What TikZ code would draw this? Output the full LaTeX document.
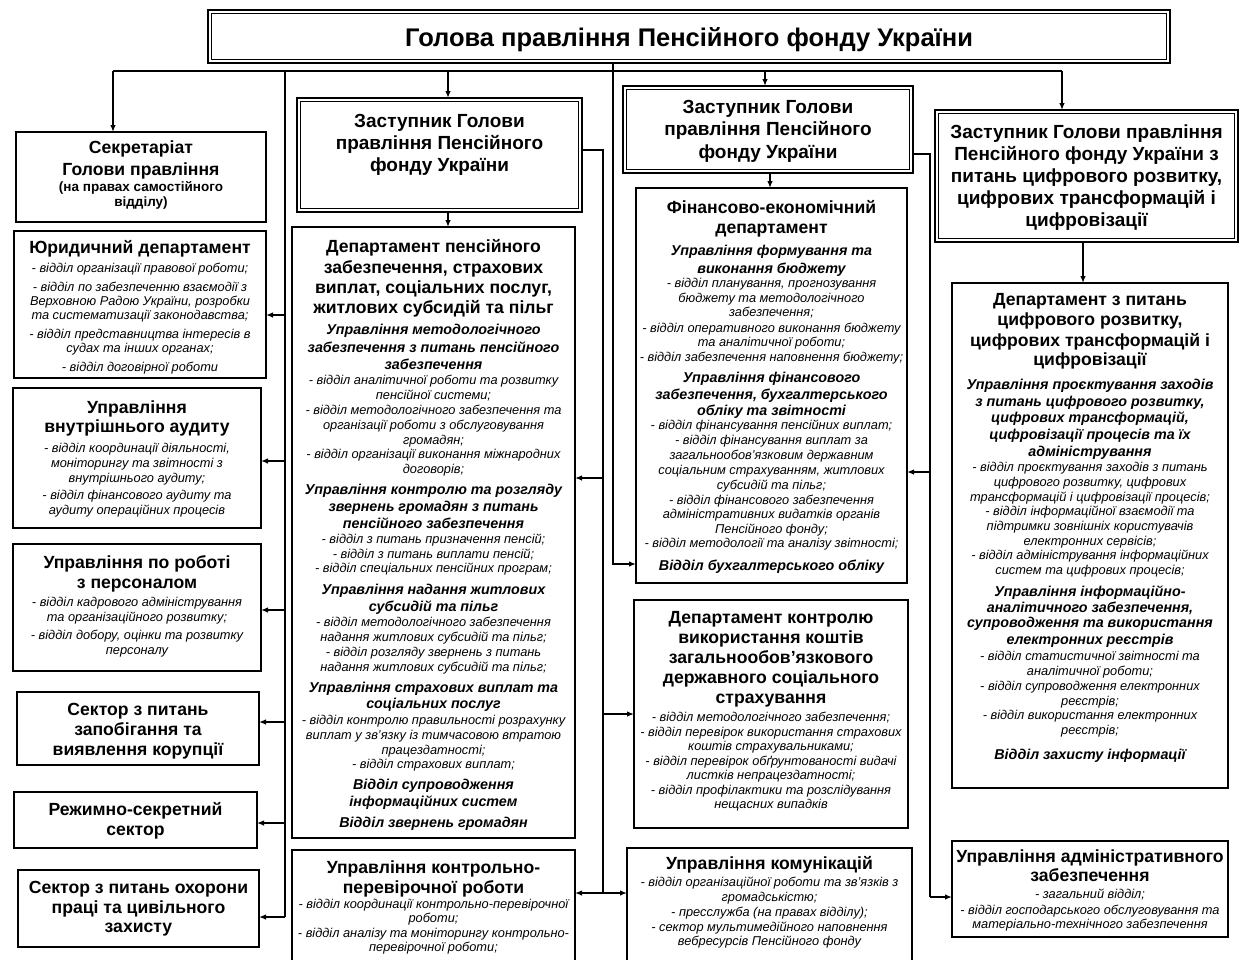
\documentclass[tikz,border=0pt]{standalone}
\usepackage{fontspec}
\setmainfont{Liberation Sans}
\usetikzlibrary{arrows.meta}
\setlength\parindent{0pt}
\newcommand\fBase{\lineskiplimit=-100pt\lineskip=0pt\spaceskip=0.278em plus 0.14em minus 0.06em\xspaceskip=0.3em plus 0.14em minus 0.06em\relax}
\newcommand\fTt{\bfseries\upshape\fontsize{25.5}{0}\selectfont\fBase}
\newcommand\fHd{\bfseries\upshape\fontsize{17.6}{0}\selectfont\fBase}
\newcommand\fDp{\bfseries\upshape\fontsize{19}{0}\selectfont\fBase}
\newcommand\fSh{\bfseries\itshape\fontsize{14.3}{0}\selectfont\fBase}
\newcommand\fLi{\mdseries\itshape\fontsize{12.8}{0}\selectfont\fBase}
\newcommand\fSb{\bfseries\upshape\fontsize{13.5}{0}\selectfont\fBase}
\newcommand\fst[1]{\rule{0pt}{#1pt}}
\begin{document}
\begin{tikzpicture}[x=1pt,y=-1pt,
  box/.style={draw,line width=1.2pt,rectangle,inner sep=0pt,outer sep=0pt,anchor=north west},
  dbox/.style={box,line width=1.5pt},
  inner/.style={draw,line width=0.7pt},
  txt/.style={anchor=north,inner sep=0pt,outer sep=0pt,execute at begin node={\centering}},
  conn/.style={line width=1.3pt},
  arr/.style={conn,-{Latex[length=7pt,width=5.5pt]}}]
\useasboundingbox (0,0) rectangle (1240,959);
\clip (0,0) rectangle (1240,959);

% ---------- boxes ----------
\node[dbox,minimum width=962pt,minimum height=53pt] (head) at (208,10) {};
\node[box,minimum width=250pt,minimum height=90pt] (sec) at (16,132) {};
\node[box,minimum width=252pt,minimum height=147pt] (yur) at (14,231) {};
\node[box,minimum width=248pt,minimum height=140pt] (aud) at (13,388) {};
\node[box,minimum width=248pt,minimum height=127pt] (per) at (13,544) {};
\node[box,minimum width=242pt,minimum height=73pt] (cor) at (17,692) {};
\node[box,minimum width=243pt,minimum height=56pt] (reg) at (14,792) {};
\node[box,minimum width=241pt,minimum height=77pt] (saf) at (18,870) {};
\node[dbox,minimum width=285pt,minimum height=114pt] (dep1) at (297,98) {};
\node[box,minimum width=283pt,minimum height=611pt] (pens) at (292,227) {};
\node[box,minimum width=283pt,minimum height=118pt] (kpr) at (292,850) {};
\node[dbox,minimum width=290pt,minimum height=87pt] (dep2) at (623,86) {};
\node[box,minimum width=271pt,minimum height=395pt] (fin) at (636,188) {};
\node[box,minimum width=274pt,minimum height=228pt] (kon) at (634,600) {};
\node[box,minimum width=285pt,minimum height=118pt] (kom) at (627,848) {};
\node[dbox,minimum width=303pt,minimum height=132pt] (dep3) at (935,110) {};
\node[box,minimum width=276pt,minimum height=505pt] (dig) at (952,283) {};
\node[box,minimum width=276pt,minimum height=96pt] (adm) at (952,841) {};

\foreach \n in {head,dep1,dep2,dep3}
  \draw[inner] ([shift={(3.2pt,-3.2pt)}]\n.north west) rectangle ([shift={(-3.2pt,3.2pt)}]\n.south east);

% ---------- texts ----------
\node[txt,text width=950pt] (head-t) at (689,21.2) {\fTt\fst{25.5}Голова правління Пенсійного фонду України\par};

\node[txt,text width=280pt] (sec-t) at (141,135.8) {\fHd\fst{18}Секретаріат\\[22pt]Голови правління\\[15.6pt]\fSb(на правах самостійного\\[15pt]відділу)\par};

\node[txt,text width=290pt] (yur-t) at (140,235.8) {\fHd\fst{18}Юридичний департамент\\[18.3pt]%
\fLi- відділ організації правової роботи;\\[19pt]- відділ по забезпеченню взаємодії з\\[14pt]Верховною Радою України, розробки\\[14pt]та систематизації законодавства;\\[19pt]- відділ представництва інтересів в\\[14pt]судах та інших органах;\\[19pt]- відділ договірної роботи\par};

\node[txt,text width=290pt] (aud-t) at (137,395.8) {\fHd\fst{18}Управління\\[19pt]внутрішнього аудиту\\[19.3pt]%
\fLi- відділ координації діяльності,\\[15pt]моніторингу та звітності з\\[15pt]внутрішнього аудиту;\\[17pt]- відділ фінансового аудиту та\\[15pt]аудиту операційних процесів\par};

\node[txt,text width=290pt] (per-t) at (137,550.8) {\fHd\fst{18}Управління по роботі\\[20pt]з персоналом\\[17.3pt]%
\fLi- відділ кадрового адміністрування\\[15pt]та організаційного розвитку;\\[18pt]- відділ добору, оцінки та розвитку\\[15pt]персоналу\par};

\node[txt,text width=280pt] (cor-t) at (138,697.8) {\fHd\fst{18}Сектор з питань\\[20pt]запобігання та\\[20pt]виявлення корупції\par};
\node[txt,text width=280pt] (reg-t) at (135.5,797.8) {\fHd\fst{18}Режимно-секретний\\[20pt]сектор\par};
\node[txt,text width=280pt] (saf-t) at (138.5,875.8) {\fHd\fst{18}Сектор з питань охорони\\[19.5pt]праці та цивільного\\[19.5pt]захисту\par};

\node[txt,text width=320pt] (dep1-t) at (439.5,108.1) {\fDp\fst{19}Заступник Голови\\[22pt]правління Пенсійного\\[22pt]фонду України\par};
\node[txt,text width=320pt] (dep2-t) at (768,94.1) {\fDp\fst{19}Заступник Голови\\[22.5pt]правління Пенсійного\\[22.5pt]фонду України\par};
\node[txt,text width=340pt] (dep3-t) at (1086.5,119.1) {\fDp\fst{19}Заступник Голови правління\\[22pt]Пенсійного фонду України з\\[22pt]питань цифрового розвитку,\\[22pt]цифрових трансформацій і\\[22pt]цифровізації\par};

\node[txt,text width=320pt] (pens-t) at (433.5,234.8) {\fHd\fst{18}Департамент пенсійного\\[21pt]забезпечення, страхових\\[20pt]виплат, соціальних послуг,\\[20pt]житлових субсидій та пільг\\[20.8pt]%
\fSh Управління методологічного\\[18pt]забезпечення з питань пенсійного\\[17pt]забезпечення\\[14.5pt]%
\fLi- відділ аналітичної роботи та розвитку\\[15pt]пенсійної системи;\\[15pt]- відділ методологічного забезпечення та\\[15pt]організації роботи з обслуговування\\[15pt]громадян;\\[14pt]- відділ організації виконання міжнародних\\[15pt]договорів;\\[21.5pt]%
\fSh Управління контролю та розгляду\\[17pt]звернень громадян з питань\\[17pt]пенсійного забезпечення\\[14.5pt]%
\fLi- відділ з питань призначення пенсій;\\[15pt]- відділ з питань виплати пенсій;\\[14pt]- відділ спеціальних пенсійних програм;\\[22.5pt]%
\fSh Управління надання житлових\\[17pt]субсидій та пільг\\[14.5pt]%
\fLi- відділ методологічного забезпечення\\[15pt]надання житлових субсидій та пільг;\\[15pt]- відділ розгляду звернень з питань\\[15pt]надання житлових субсидій та пільг;\\[21.5pt]%
\fSh Управління страхових виплат та\\[16pt]соціальних послуг\\[15.5pt]%
\fLi- відділ контролю правильності розрахунку\\[15pt]виплат у зв'язку із тимчасовою втратою\\[15pt]працездатності;\\[14pt]- відділ страхових виплат;\\[21.5pt]%
\fSh Відділ супроводження\\[17pt]інформаційних систем\\[21pt]Відділ звернень громадян\par};

\node[txt,text width=320pt] (kpr-t) at (433.5,855.8) {\fHd\fst{18}Управління контрольно-\\[20pt]перевірочної роботи\\[14.3pt]%
\fLi- відділ координації контрольно-перевірочної\\[14.5pt]роботи;\\[14.5pt]- відділ аналізу та моніторингу контрольно-\\[14.5pt]перевірочної роботи;\par};

\node[txt,text width=310pt] (fin-t) at (771.5,195.8) {\fHd\fst{18}Фінансово-економічний\\[19.5pt]департамент\\[21.8pt]%
\fSh Управління формування та\\[18pt]виконання бюджету\\[14.5pt]%
\fLi- відділ планування, прогнозування\\[15pt]бюджету та методологічного\\[14pt]забезпечення;\\[16pt]- відділ оперативного виконання бюджету\\[14pt]та аналітичної роботи;\\[15pt]- відділ забезпечення наповнення бюджету;\\[20.5pt]%
\fSh Управління фінансового\\[17pt]забезпечення, бухгалтерського\\[16pt]обліку та звітності\\[14.5pt]%
\fLi- відділ фінансування пенсійних виплат;\\[15pt]- відділ фінансування виплат за\\[15pt]загальнообов'язковим державним\\[15pt]соціальним страхуванням, житлових\\[15pt]субсидій та пільг;\\[15pt]- відділ фінансового забезпечення\\[14pt]адміністративних видатків органів\\[15pt]Пенсійного фонду;\\[14pt]- відділ методології та аналізу звітності;\\[22.5pt]%
\fSh Відділ бухгалтерського обліку\par};

\node[txt,text width=310pt] (kon-t) at (771,605.8) {\fHd\fst{18}Департамент контролю\\[20pt]використання коштів\\[20pt]загальнообов’язкового\\[20pt]державного соціального\\[20pt]страхування\\[17.3pt]%
\fLi- відділ методологічного забезпечення;\\[15pt]- відділ перевірок використання страхових\\[14pt]коштів страхувальниками;\\[15pt]- відділ перевірок обґрунтованості видачі\\[14pt]листків непрацездатності;\\[15pt]- відділ профілактики та розслідування\\[14pt]нещасних випадків\par};

\node[txt,text width=320pt] (kom-t) at (769.5,851.8) {\fHd\fst{18}Управління комунікацій\\[16.3pt]%
\fLi- відділ організаційної роботи та зв'язків з\\[15pt]громадськістю;\\[15pt]- пресслужба (на правах відділу);\\[15pt]- сектор мультимедійного наповнення\\[14pt]вебресурсів Пенсійного фонду\par};

\node[txt,text width=310pt] (dig-t) at (1090,287.8) {\fHd\fst{18}Департамент з питань\\[20pt]цифрового розвитку,\\[21pt]цифрових трансформацій і\\[19pt]цифровізації\\[23.8pt]%
\fSh Управління проєктування заходів\\[17pt]з питань цифрового розвитку,\\[16pt]цифрових трансформацій,\\[17pt]цифровізації процесів та їх\\[17pt]адміністрування\\[14.5pt]%
\fLi- відділ проєктування заходів з питань\\[15pt]цифрового розвитку, цифрових\\[15pt]трансформацій і цифровізації процесів;\\[14pt]- відділ інформаційної взаємодії та\\[15pt]підтримки зовнішніх користувачів\\[15pt]електронних сервісів;\\[14pt]- відділ адміністрування інформаційних\\[15pt]систем та цифрових процесів;\\[22.5pt]%
\fSh Управління інформаційно-\\[16pt]аналітичного забезпечення,\\[15pt]супроводження та використання\\[17pt]електронних реєстрів\\[15.5pt]%
\fLi- відділ статистичної звітності та\\[15pt]аналітичної роботи;\\[15pt]- відділ супроводження електронних\\[15pt]реєстрів;\\[14pt]- відділ використання електронних\\[15pt]реєстрів;\\[25.5pt]%
\fSh Відділ захисту інформації\par};

\node[txt,text width=310pt] (adm-t) at (1090,844.8) {\fHd\fst{18}Управління адміністративного\\[19pt]забезпечення\\[16.3pt]%
\fLi- загальний відділ;\\[16pt]- відділ господарського обслуговування та\\[14pt]матеріально-технічного забезпечення\par};

% ---------- connectors ----------
\coordinate (hL) at (113,71);
\coordinate (hR) at (1062,71);
\coordinate (lb) at (285,71);
\coordinate (lbe) at (285,917);
\coordinate (c1) at (448,71);
\coordinate (c2) at (765,71);
\coordinate (o1) at (448,0);
\coordinate (o2) at (770,0);
\coordinate (o3) at (1083,0);
\coordinate (ts) at (613,564);
\coordinate (d1b) at (603,150);
\coordinate (d1e) at (603,893);
\coordinate (d2b) at (930,154);
\coordinate (d2e) at (930,897);
\coordinate (yYur) at (0,315);
\coordinate (yAud) at (0,461);
\coordinate (yPer) at (0,610);
\coordinate (yCor) at (0,722);
\coordinate (yReg) at (0,823);
\coordinate (yPen) at (0,478);
\coordinate (yKon) at (0,714);
\coordinate (yFin) at (0,472);

\draw[conn] (hL) -- (hR);
\draw[arr] (hL) -- (hL |- sec.north);
\draw[arr] (c1) -- (c1 |- dep1.north);
\draw[arr] (c2) -- (c2 |- dep2.north);
\draw[arr] (hR) -- (hR |- dep3.north);

\draw[conn] (lb) -- (lbe);
\draw[arr] (lb |- yYur) -- (yur.east |- yYur);
\draw[arr] (lb |- yAud) -- (aud.east |- yAud);
\draw[arr] (lb |- yPer) -- (per.east |- yPer);
\draw[arr] (lb |- yCor) -- (cor.east |- yCor);
\draw[arr] (lb |- yReg) -- (reg.east |- yReg);
\draw[arr] (lbe) -- (saf.east |- lbe);

\draw[arr] (o1 |- dep1.south) -- (o1 |- pens.north);
\draw[arr] (o2 |- dep2.south) -- (o2 |- fin.north);
\draw[arr] (o3 |- dep3.south) -- (o3 |- dig.north);

\draw[arr] (head.south -| ts) -- (ts) -- (fin.west |- ts);

\draw[conn] (dep1.east |- d1b) -- (d1b) -- (d1e);
\draw[arr] (d1b |- yPen) -- (pens.east |- yPen);
\draw[arr] (d1b |- yKon) -- (kon.west |- yKon);
\draw[arr] (d1e) -- (kpr.east |- d1e);
\draw[arr] (d1e) -- (kom.west |- d1e);

\draw[conn] (dep2.east |- d2b) -- (d2b) -- (d2e);
\draw[arr] (d2b |- yFin) -- (fin.east |- yFin);
\draw[arr] (d2e) -- (adm.west |- d2e);
\end{tikzpicture}
\end{document}
